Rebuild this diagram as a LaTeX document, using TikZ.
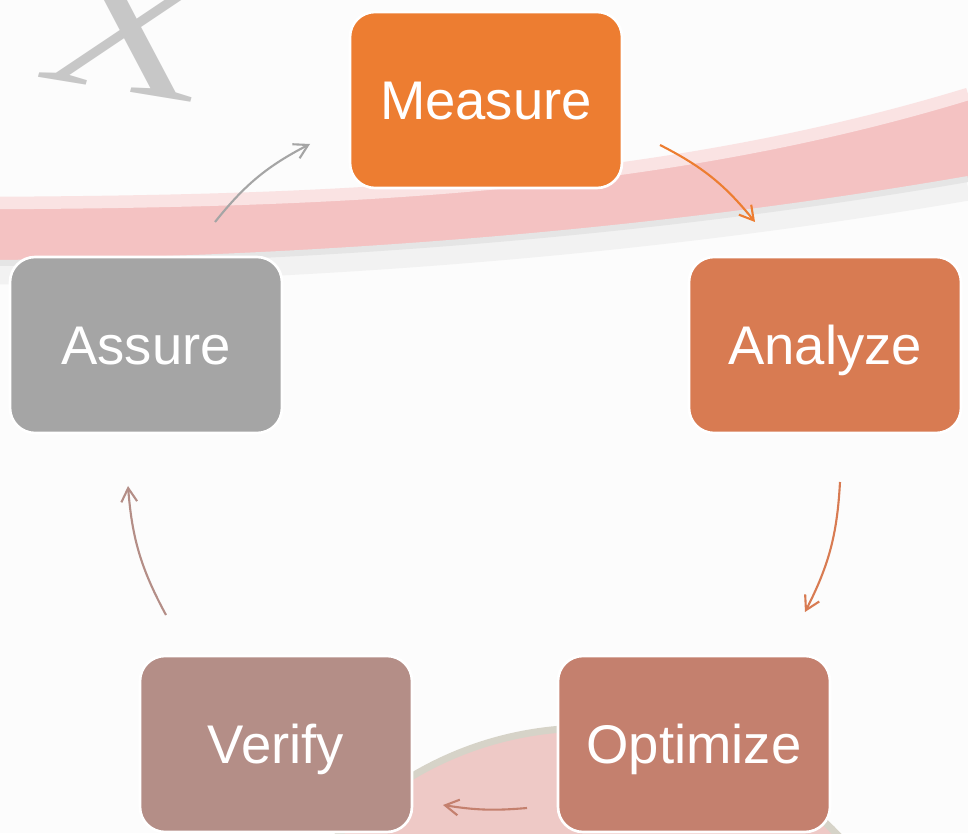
\documentclass[tikz,border=0pt]{standalone}
\usepackage{fontspec}
\setmainfont{Liberation Sans}
\newfontfamily\bgserif{Liberation Serif}
\usetikzlibrary{arrows.meta}

\definecolor{measurecol}{RGB}{237,125,49}
\definecolor{analyzecol}{RGB}{216,123,82}
\definecolor{optimizecol}{RGB}{196,128,110}
\definecolor{verifycol}{RGB}{180,142,135}
\definecolor{assurecol}{RGB}{165,165,165}
\definecolor{tubepink}{RGB}{244,194,194}
\definecolor{dishpink}{RGB}{238,201,198}
\definecolor{dishrim}{RGB}{214,211,200}

\tikzstyle{phase} = [shape=rectangle, rounded corners=0.5cm, draw=white, line width=1.5pt, minimum width=5.44cm, minimum height=3.52cm, text=white, font={\fontsize{31}{37}\selectfont}, text height=22pt, text depth=0pt, align=center]
\tikzstyle{flow} = [line width=1.2pt, -{Straight Barb[angle=60:9pt]}]

\begin{document}
\begin{tikzpicture}[x=0.02cm,y=0.02cm]
\useasboundingbox (0,0) rectangle (968,833);
\clip (0,0) rectangle (968,833);
\fill[white!99!black] (0,0) rectangle (968,833);

% faded background
\draw[black!5, line width=0.5cm] (968,645) .. controls (650,590) and (320,565) .. (0,561);
\fill[tubepink] (0,628) .. controls (320,630) and (650,640) .. (968,737) -- (968,655) .. controls (650,600) and (320,575) .. (0,571) -- cycle;
\draw[tubepink!45, line width=0.25cm] (0,630) .. controls (320,632) and (650,642) .. (968,739);
\draw[black!10, line width=0.12cm] (968,654) .. controls (650,599) and (320,574) .. (0,570);
\fill[dishpink] (588,-240) circle (6.9cm);
\draw[dishrim, line width=0.14cm] (588,-240) circle (6.9cm);
\node [xscale=1.3, rotate=-12, text=black!22, font={\bgserif\fontsize{100}{100}\selectfont}] (bgx) at (130,800) {X};

% stages
\node [phase, fill=measurecol] (measure) at (486,733) {Measure};
\node [phase, fill=analyzecol] (analyze) at (825,488) {Analyze};
\node [phase, fill=optimizecol] (optimize) at (694,89) {Optimize};
\node [phase, fill=verifycol] (verify) at (276,89) {Verify};
\node [phase, fill=assurecol] (assure) at (146,488) {Assure};

% arrow ends
\coordinate (assure-out) at (215,611);
\coordinate (measure-in) at (310,689);
\coordinate (measure-out) at (660,688);
\coordinate (analyze-in) at (755,611);
\coordinate (analyze-out) at (840,351);
\coordinate (optimize-in) at (805,221);
\coordinate (optimize-out) at (527,25);
\coordinate (verify-in) at (443,28);
\coordinate (verify-out) at (166,218);
\coordinate (assure-in) at (128,347);

\draw [flow, assurecol] (assure-out) to[bend left=12] (measure-in);
\draw [flow, measurecol] (measure-out) to[bend left=12] (analyze-in);
\draw [flow, analyzecol] (analyze-out) to[bend left=12] (optimize-in);
\draw [flow, optimizecol] (optimize-out) to[bend left=7] (verify-in);
\draw [flow, verifycol] (verify-out) to[bend left=12] (assure-in);
\end{tikzpicture}
\end{document}
